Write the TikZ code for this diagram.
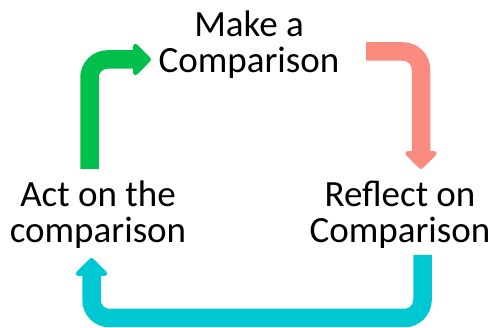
\documentclass[tikz,border=0pt]{standalone}
\usepackage{fontspec}
\setmainfont{Carlito}
\usepackage{tikz}
\usetikzlibrary{arrows.meta, positioning, calc}
\definecolor{makecolor}{HTML}{00C04B}
\definecolor{reflectcolor}{HTML}{FA8C7F}
\definecolor{actcolor}{HTML}{00C8D2}

\begin{document}
\begin{tikzpicture}[
    x=1pt, y=-1pt,
    label/.style={align=center, inner sep=0pt, font=\fontsize{37}{36}\selectfont},
    bend/.style={line width=18.5pt, rounded corners=18pt, draw=#1,
      -{Triangle[length=19pt, width=37pt, round=false]}},
  ]
  \useasboundingbox (0,0) rectangle (495,328);

  \node[label] (make) at (249,45) {Make a\\Comparison};
  \node[label] (reflect) at (400,215) {Reflect on\\Comparison};
  \node[label] (act) at (98,215) {Act on the\\comparison};

  % arrow ends
  \coordinate (actout) at (89.5,169);
  \coordinate (makein) at (151,59.5);
  \coordinate (makeout) at (366,51.5);
  \coordinate (reflectin) at (421,169);
  \coordinate (reflectout) at (422.5,255);
  \coordinate (actin) at (91.5,258);

  \draw[bend=makecolor] (actout) |- (makein);
  \draw[bend=reflectcolor] (makeout) -| (reflectin);
  \draw[bend=actcolor] (reflectout) -- (reflectout |- 0,318) -| (actin);
\end{tikzpicture}
\end{document}
